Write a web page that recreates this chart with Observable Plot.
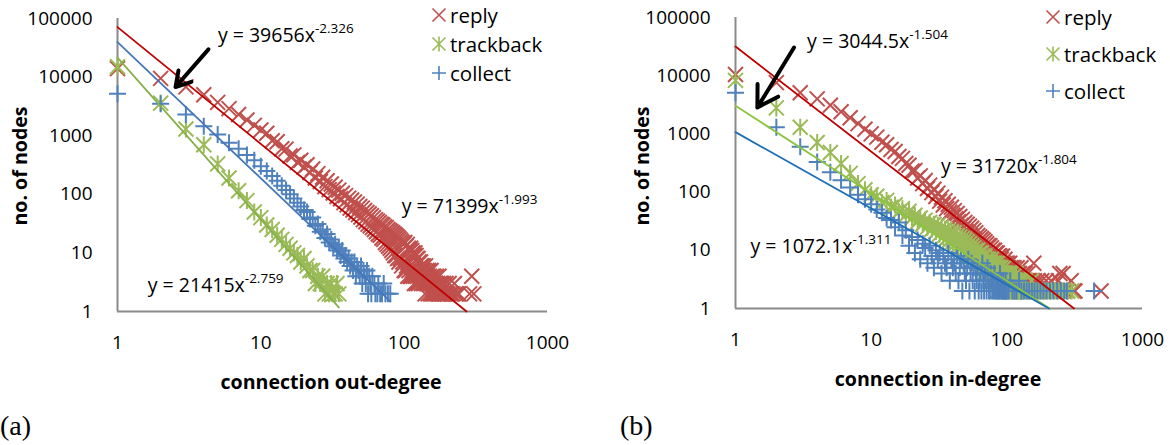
<!DOCTYPE html>
<html><head><meta charset="utf-8">
<script src="https://cdn.jsdelivr.net/npm/d3@7"></script>
<script src="https://cdn.jsdelivr.net/npm/@observablehq/plot@0.6"></script>
<style>
html,body{margin:0;padding:0;background:#fff}
body{width:1170px;height:445px;overflow:hidden;position:relative;font-family:"Open Sans",sans-serif;color:#000}
.panel{position:absolute;top:0}
.title{position:absolute;font-weight:bold;font-size:19.6px;white-space:nowrap;transform:translate(-50%,-50%)}
.ytitle{transform:translate(-50%,-50%) rotate(-90deg)}
.plabel{position:absolute;font-family:"Liberation Serif","Times New Roman",serif;font-size:28px;top:410px}
.legend{position:absolute;font-size:20.5px}
.legend .row{display:flex;align-items:center;white-space:nowrap}
.legend svg{margin-right:0px}
</style></head>
<body>
<div id="a" class="panel" style="left:0;width:585px"></div>
<div id="b" class="panel" style="left:618px;width:552px"></div>
<div class="title" style="left:331px;top:381px">connection out-degree</div>
<div class="title" style="left:938px;top:378px">connection in-degree</div>
<div class="title ytitle" style="left:19px;top:166px">no. of nodes</div>
<div class="title ytitle" style="left:641px;top:166px">no. of nodes</div>
<div class="plabel" style="left:0px">(a)</div>
<div class="plabel" style="left:620px">(b)</div>
<div id="legA" class="legend" style="left:430px;top:0px"></div>
<div id="legB" class="legend" style="left:1044px;top:-2px"></div>
<script>
// ---------- data ----------
const seriesNames = ["reply", "trackback", "collect"];
const xTicks = [1, 10, 100, 1000];
const yTicks = [1, 10, 100, 1000, 10000, 100000];

// (a) out-degree: counts at degree 1,2,3,... (consecutive), then sparse tail [degree, count]
const outReplyHead = [14000,9500,6800,5000,3700,2900,2300,1850,1500,1250,
  1100,820,790,600,590,450,470,350,380,290,
  320,235,270,190,225,165,195,135,170,120,
  150,105,132,92,118,84,104,72,95,66,
  86,58,80,54,74,49,68,45,62,41,
  58,37,53,34,49,31,46,29,43,27,
  40,25,37,23,35,21,33,20,31,18,
  30,17,28,15,27,14,25,13,24,12,
  23,11,22,10,21,9,20,9,19,8,
  18,7,17,8,16,6,15,7,14,5,
  15,5,13,6,14,4,12,5,11,4,
  12,4,11,5,10,4,9,3,10,4,
  9,3,8,4,8,3,7,5,4,7,
  6,3,6,4,5,6,3,5,4,2,
  6,3,4,5,3,4,2,5,3,4];
const outReplyTail = [[152,3],[153,2],[154,5],[156,2],[157,4],[158,3],[160,2],[161,4],[163,3],[164,2],
  [166,3],[168,4],[169,2],[171,3],[173,2],[175,4],[176,2],[178,3],[180,2],[182,3],[184,2],[186,2],
  [188,3],[191,2],[193,2],[196,3],[199,2],[202,2],[206,3],[210,2],[214,2],[219,2],[224,3],[229,2],
  [235,2],[241,2],[286,2],[296,4],[306,2]];
const outTrackHead = [15000,3600,1300,700,330,190,115,78,50,40,
  30,25,20,17,14,12,10,9,7,8,6,5,
  5,3,4,3,4,2,3,2,3,2,2,3,2];
const outTrackTail = [];
const outCollectHead = [5200,3500,2300,1450,1050,760,600,470,380,300,
  250,205,170,140,118,100,85,72,62,54,
  50,38,40,29,31,23,25,18,21,15,
  17,13,14,11,12,9,11,8,9,7,
  8,6,7,5,7,4,6,5,4,6,
  3,5,4,3,5,2,4,3,2,4];
const outCollectTail = [[62,3],[63,2],[65,2],[66,3],[68,2],[70,2],[72,3],[74,2],[77,2],[80,2]];

// (b) in-degree
const inReplyHead = [10500,7600,5100,4000,3100,2400,1900,1500,1200,1000,
  880,720,650,540,500,410,380,310,290,230,
  235,175,190,140,158,115,132,98,112,84,
  96,70,82,60,71,52,62,45,55,40,
  48,35,43,31,38,27,34,24,30,21,
  28,20,26,18,24,16,22,15,20,13,
  18,12,17,11,16,10,15,10,14,9,
  13,8,12,7,12,7,11,6,10,6,
  10,5,9,6,9,5,8,4,8,5,
  7,4,8,5,6,3,7,4,6,3,
  6,4,5,3,6,2,5,4,3,5,4,2,5,3,4,2,4,3,5,2,
  4,3,2,4,3,2,5,3,2,3,4,2,3,2,3,4,2,3,2,2,3,2,4,2,3,2,2,3,2,2];
const inReplyTail = [[152,3],[155,2],[158,6],[160,3],[163,2],[166,2],[170,3],[173,2],[177,2],[181,3],
  [185,2],[190,2],[195,3],[200,2],[206,2],[212,3],[218,2],[225,2],[232,2],[240,3],[246,4],[255,2],
  [260,4],[265,2],[280,2],[298,3],[310,2],[318,2],[495,2]];
const inTrackHead = [8300,2800,1300,710,480,310,210,140,110,90,
  85,66,72,55,60,46,52,40,47,36,
  40,31,36,28,33,25,30,23,28,21,
  27,19,25,17,23,16,22,15,21,14,
  20,13,18,12,17,11,16,10,15,9,
  14,8,13,9,12,7,11,8,10,6,
  10,6,9,5,9,6,8,4,8,5,
  7,4,7,5,6,3,7,4,6,3,
  6,3,5,4,6,2,5,3,4,5,3,2,4,3,5,2,4,3,2,4,
  3,2,4,2,3,3,2,4,2,3,2,3,2,2,3,2,4,2,3,2,2,3,2,2,3,2,2,2,3,2];
const inTrackTail = [[133,2],[136,3],[140,2],[144,2],[148,2],[152,3],[157,2],[162,2],[168,2],[175,2],
  [182,2],[190,2],[200,2],[212,2],[225,2],[240,2],[258,2],[280,2],[300,2]];
const inCollectHead = [5100,1300,600,330,220,160,120,90,75,62,
  50,44,36,33,25,30,18,22,12,17,
  9,15,7,13,11,6,12,8,5,10,
  7,9,4,8,6,5,9,3,7,5,
  6,4,8,3,5,7,2,6,4,3,5,7,2,4,6,3,5,2,4,3,
  5,2,3,4,2,6,3,2,4,3,2,5,3,2,2,4,3,2,3,2,4,2,2,3,2,3,2,2,4,2,3,2,2,3,2,2,2,3,2,2];
const inCollectTail = [[103,2],[106,3],[110,2],[114,2],[118,2],[123,3],[128,2],[134,2],[140,2],[146,2],
  [153,2],[160,2],[168,2],[177,2],[186,2],[196,2],[208,2],[220,2],[235,2],[250,2],[265,2],[277,2],[440,2]];

// power-law trendlines y = C x^b (from the chart's equations)
const outFitC = [71399, 21415, 39656];
const outFitB = [-1.993, -2.759, -2.326];
const inFitC = [31720, 3044.5, 1072.1];
const inFitB = [-1.804, -1.504, -1.311];
const outEq = ["y = 71399x", "y = 21415x", "y = 39656x"];
const outEqSup = ["-1.993", "-2.759", "-2.326"];
const inEq = ["y = 31720x", "y = 3044.5x", "y = 1072.1x"];
const inEqSup = ["-1.804", "-1.504", "-1.311"];

// ---------- styling ----------
const markerColors = ["#C0504D", "#9BBB59", "#4F81BD"];
const symTimes = {draw(c){const h=7.5;c.moveTo(-h,-h);c.lineTo(h,h);c.moveTo(-h,h);c.lineTo(h,-h);}};
const symStar = {draw(c){const h=7.5;c.moveTo(-h,-h);c.lineTo(h,h);c.moveTo(-h,h);c.lineTo(h,-h);c.moveTo(0,-h-1);c.lineTo(0,h+1);}};
const symPlus = {draw(c){const h=8.5;c.moveTo(-h,0);c.lineTo(h,0);c.moveTo(0,-h);c.lineTo(0,h);}};
const symbols = [symTimes, symStar, symPlus];
const legSymbols = [
  {draw(c){const h=6.5;c.moveTo(-h,-h);c.lineTo(h,h);c.moveTo(-h,h);c.lineTo(h,-h);}},
  {draw(c){const h=6.5;c.moveTo(-h,-h);c.lineTo(h,h);c.moveTo(-h,h);c.lineTo(h,-h);c.moveTo(0,-h-1);c.lineTo(0,h+1);}},
  {draw(c){const h=7;c.moveTo(-h,0);c.lineTo(h,0);c.moveTo(0,-h);c.lineTo(0,h);}}
];
const font = "'Open Sans', sans-serif";

function table(head, tail){
  return head.map((n,i)=>({k:i+1,n})).concat(tail.map(([k,n])=>({k,n})));
}

function panel(opts){
  const {sets, fitC, fitB, lineColors, eq, eqSup, eqPos, arrow, width, marginRight, marginTop, marginBottom} = opts;
  const marks = [
    Plot.axisX({ticks: xTicks, tickSize: 0, tickPadding: 24, tickFormat: d => String(d), label: null, fontSize: 19}),
    Plot.axisY({ticks: yTicks, tickSize: 0, tickPadding: 25, tickFormat: d => String(d), label: null, fontSize: 19}),
    Plot.ruleX([1], {stroke: "#8a8a8a", strokeWidth: 2}),
    Plot.ruleY([1], {x1: 1, x2: 1000, stroke: "#8a8a8a", strokeWidth: 2})
  ];
  sets.forEach((d,i)=>{
    marks.push(Plot.dot(d, {x:"k", y:"n", symbol: () => symbols[i], fill:"none", stroke: markerColors[i], strokeWidth: 2, r: 7}));
  });
  fitC.forEach((C,i)=>{
    const ks = sets[i].map(d => d.k);
    const kMin = d3.min(ks);
    const kEnd = Math.min(d3.max(ks), Math.pow(C, -1/fitB[i]));
    marks.push(Plot.line([{k:kMin, n:C*Math.pow(kMin, fitB[i])}, {k:kEnd, n:C*Math.pow(kEnd, fitB[i])}],
      {x:"k", y:"n", stroke: lineColors[i], strokeWidth: 1.8}));
  });
  marks.push(Plot.arrow([arrow], {x1:"x1", y1:"y1", x2:"x2", y2:"y2", stroke:"#000", strokeWidth: 4, headLength: 20, headAngle: 62, inset: 0}));
  const chart = Plot.plot({
    width, height: 400, marginLeft: 117, marginRight, marginTop, marginBottom,
    style: {fontFamily: font, fontSize: "19px", color: "#000", background: "transparent", overflow: "visible"},
    x: {type: "log", domain: [1, 1000]},
    y: {type: "log", domain: [1, 100000]},
    marks
  });
  const sx = chart.scale("x"), sy = chart.scale("y");
  const svg = d3.select(chart);
  eq.forEach((t,i)=>{
    const p = eqPos[i];
    const txt = svg.append("text").attr("x", sx.apply(p[0])).attr("y", sy.apply(p[1]))
      .attr("text-anchor", "start")
      .attr("font-family", font).attr("font-size", 19.5).attr("fill", "#000");
    txt.append("tspan").text(t);
    txt.append("tspan").attr("dy", -9).attr("font-size", 13.5).text(eqSup[i]);
  });
  return chart;
}

const chartA = panel({
  sets: [table(outReplyHead,outReplyTail), table(outTrackHead,outTrackTail), table(outCollectHead,outCollectTail)],
  fitC: outFitC, fitB: outFitB,
  lineColors: ["#C00000", "#86B04A", "#4677B8"],
  eq: outEq, eqSup: outEqSup,
  eqPos: [[96.9, 47], [1.64, 2.11], [5.06, 38900]],
  arrow: {x1: 4.31, y1: 29800, x2: 2.54, y2: 6780},
  width: 585, marginRight: 38, marginTop: 18, marginBottom: 89
});
document.getElementById("a").appendChild(chartA);

const chartB = panel({
  sets: [table(inReplyHead,inReplyTail), table(inTrackHead,inTrackTail), table(inCollectHead,inCollectTail)],
  fitC: inFitC, fitB: inFitB,
  lineColors: ["#C00000", "#8CC43C", "#1F6FB8"],
  eq: inEq, eqSup: inEqSup,
  eqPos: [[33, 209], [3.4, 29300], [1.3, 8.81]],
  arrow: {x1: 2.7, y1: 30500, x2: 1.45, y2: 2840},
  width: 552, marginRight: 28, marginTop: 17, marginBottom: 92
});
document.getElementById("b").appendChild(chartB);

// legends
function legend(id, rowHeight){
  const el = document.getElementById(id);
  seriesNames.forEach((name,i)=>{
    const row = document.createElement("div");
    row.className = "row";
    row.style.height = rowHeight + "px";
    const s = d3.create("svg").attr("width", 18).attr("height", 18);
    const path = d3.path(); legSymbols[i].draw(path);
    s.append("path").attr("transform","translate(9,9)").attr("d", path.toString())
      .attr("fill","none").attr("stroke", markerColors[i]).attr("stroke-width", 1.6);
    row.appendChild(s.node());
    const t = document.createElement("span"); t.textContent = name;
    t.style.marginLeft = "2px";
    row.appendChild(t);
    el.appendChild(row);
  });
}
legend("legA", 29);
legend("legB", 37);
</script>
</body></html>
